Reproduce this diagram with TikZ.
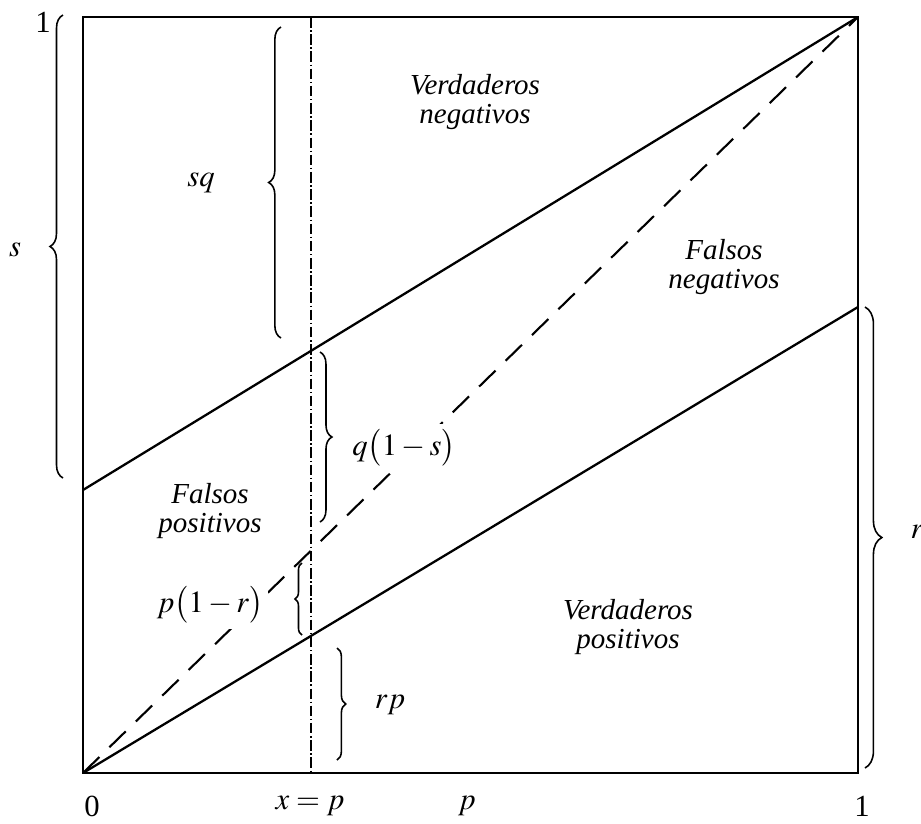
\documentclass[tikz,border=0pt]{standalone}
\usepackage{mathptmx}
\usepackage{fontspec}
\setmainfont{Liberation Serif}
\usetikzlibrary{decorations.pathreplacing,calc}

\begin{document}
\begin{tikzpicture}[
  x=0.02cm, y=-0.02cm,
  boxline/.style={line width=1.6pt, line join=miter},
  ratioline/.style={line width=1.3pt},
  diagline/.style={line width=1.2pt, dash pattern=on 13pt off 8pt},
  pline/.style={line width=0.6pt, dash pattern=on 6pt off 1.5pt on 0.8pt off 1.5pt},
  bracket/.style={decorate, decoration={brace, amplitude=#1}, line width=0.9pt},
  region/.style={font=\itshape\fontsize{16.5}{16}\selectfont, align=center, inner sep=1pt},
  lbl/.style={font=\fontsize{17.5}{17}\selectfont, inner sep=1pt},
  mask/.style={fill=white, inner sep=3pt}
]
\useasboundingbox (0,0) rectangle (921,823);
% corners of the unit square
\coordinate (O) at (83,773);
\coordinate (TL) at (83,17);
\coordinate (TR) at (858,17);
\coordinate (BR) at (858,773);
\coordinate (S0) at (83,490);
\coordinate (R1) at (858,307);
\coordinate (Ptop) at (311,17);
\coordinate (Pbot) at (311,773);

\draw[boxline] (O) -- (TL) -- (TR) -- (BR) -- cycle;
\draw[pline] (Ptop) -- (Pbot);
\draw[ratioline] (S0) -- (TR);
\draw[ratioline] (O) -- (R1);
\draw[diagline] (O) -- (TR);

% braces
\draw[bracket=7.4pt] (63,478) -- (63,15);
\draw[bracket=7pt] (281,338) -- (281,27);
\draw[bracket=6.8pt] (320,352) -- (320,522);
\draw[bracket=4pt] (302,635) -- (302,563);
\draw[bracket=5pt] (337,648) -- (337,760);
\draw[bracket=9.6pt] (865,307) -- (865,768);

% brace labels
\node[lbl] (one) at (43,22) {1};
\node[lbl] (s) at (15,250) {$s$};
\node[lbl] (sq) at (201,183) {$sq$};
\node[lbl, mask] (qs) at (404,448) {$q\bigl(1-s\bigr)$};
\node[lbl, mask] (pr) at (210,605) {$p\bigl(1-r\bigr)$};
\node[lbl] (rp) at (390,705) {$rp$};
\node[lbl] (r) at (917,532) {$r$};

% regions
\node[region] (vn) at (475,102) {Verdaderos\\negativos};
\node[region] (fn) at (724,267) {Falsos\\negativos};
\node[region] (fp) at (210,511) {Falsos\\positivos};
\node[region] (vp) at (628,627) {Verdaderos\\positivos};

% axis
\node[lbl] (x0) at (92,806) {0};
\node[lbl] (xp) at (310,806) {$x=p$};
\node[lbl] (p) at (467,806) {$p$};
\node[lbl] (x1) at (862,806) {1};
\end{tikzpicture}
\end{document}
